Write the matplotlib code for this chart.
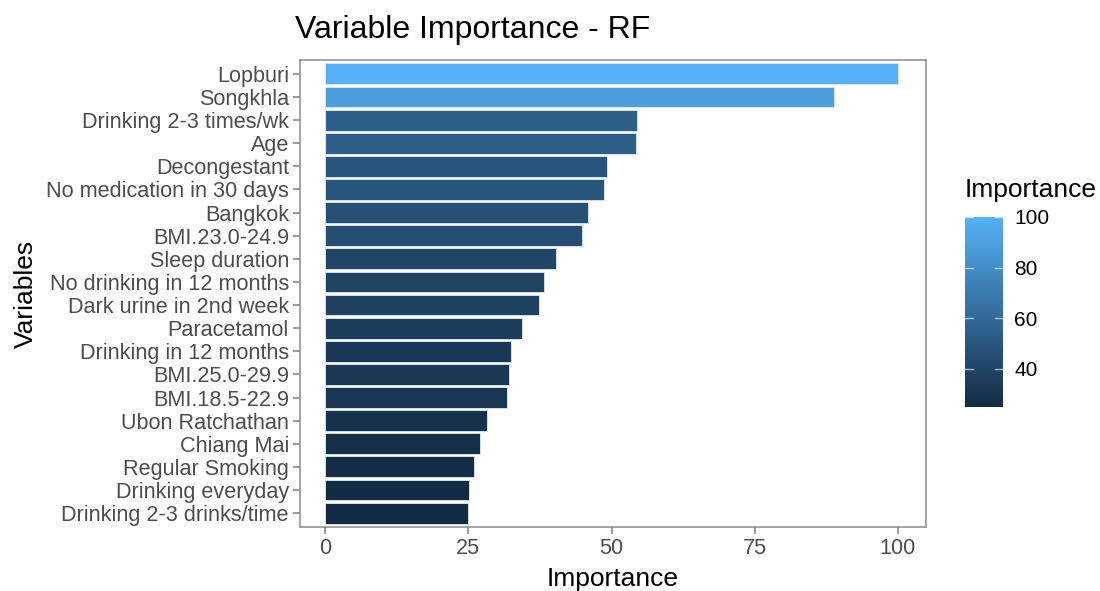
import matplotlib
matplotlib.use("Agg")
import matplotlib.pyplot as plt
import numpy as np
from matplotlib.colors import LinearSegmentedColormap, Normalize

plt.rcParams['font.family'] = ['Liberation Sans', 'DejaVu Sans']

variables = ["Lopburi", "Songkhla", "Drinking 2-3 times/wk", "Age", "Decongestant",
             "No medication in 30 days", "Bangkok", "BMI.23.0-24.9", "Sleep duration",
             "No drinking in 12 months", "Dark urine in 2nd week", "Paracetamol",
             "Drinking in 12 months", "BMI.25.0-29.9", "BMI.18.5-22.9", "Ubon Ratchathan",
             "Chiang Mai", "Regular Smoking", "Drinking everyday", "Drinking 2-3 drinks/time"]
importance = [100.0, 88.9, 54.5, 54.2, 49.2, 48.6, 45.8, 44.9, 40.3, 38.2,
              37.4, 34.4, 32.4, 32.1, 31.8, 28.3, 27.1, 25.9, 25.1, 25.0]
x_ticks = [0, 25, 50, 75, 100]
cbar_ticks = [40, 60, 80, 100]

cmap = LinearSegmentedColormap.from_list("gg", ["#132B43", "#56B1F7"])
norm = Normalize(vmin=min(importance), vmax=max(importance))

fig = plt.figure(figsize=(11, 5.91), dpi=100)
ax = fig.add_axes([300/1100, 1-527/591, 626/1100, 467/591])

n = len(variables)
ypos = np.arange(n)[::-1] + 1
ax.barh(ypos, importance, height=0.9, color=cmap(norm(importance)),
        edgecolor="#DDEBF7", linewidth=0.6)
ax.set_yticks(ypos)
ax.set_yticklabels(variables)
ax.set_ylim(0.4, n + 0.6)
ax.set_xlim(-4.4, 104.9)
ax.set_xticks(x_ticks)
ax.set_xticklabels([str(t) for t in x_ticks])

grey_tick = "#4D4D4D"
ax.tick_params(axis='both', colors="#7F7F7F", labelcolor=grey_tick, labelsize=15.6,
               length=5, width=1.1, pad=3)
for s in ax.spines.values():
    s.set_color("#8C8C8C")
    s.set_linewidth(1.1)

ax.set_xlabel("Importance", fontsize=19, labelpad=6, color="black")
ax.set_ylabel("Variables", fontsize=19, labelpad=6, color="black")
fig.text(295/1100, 1-30/591, "Variable Importance - RF", fontsize=23,
         ha="left", va="center", color="black")

# colorbar
cax = fig.add_axes([965/1100, 1-407/591, 38/1100, 190/591])
grad = np.linspace(norm.vmin, norm.vmax, 300).reshape(-1, 1)
cax.imshow(grad, aspect="auto", cmap=cmap, norm=norm, origin="lower",
           extent=[0, 1, norm.vmin, norm.vmax])
cax.set_xlim(0, 1)
cax.set_ylim(norm.vmin, norm.vmax)
cax.set_xticks([])
cax.yaxis.tick_right()
cax.set_yticks(cbar_ticks)
cax.set_yticklabels([str(t) for t in cbar_ticks])
cax.tick_params(axis='y', length=0, labelsize=15, labelcolor="black", pad=8)
for t in cbar_ticks:
    cax.plot([0, 0.2], [t, t], color="white", lw=1, alpha=0.6)
    cax.plot([0.8, 1], [t, t], color="white", lw=1, alpha=0.6)
for s in cax.spines.values():
    s.set_visible(False)
fig.text(965/1100, 1-190/591, "Importance", fontsize=19, ha="left", va="center")

fig.savefig("out.png", dpi=100)
